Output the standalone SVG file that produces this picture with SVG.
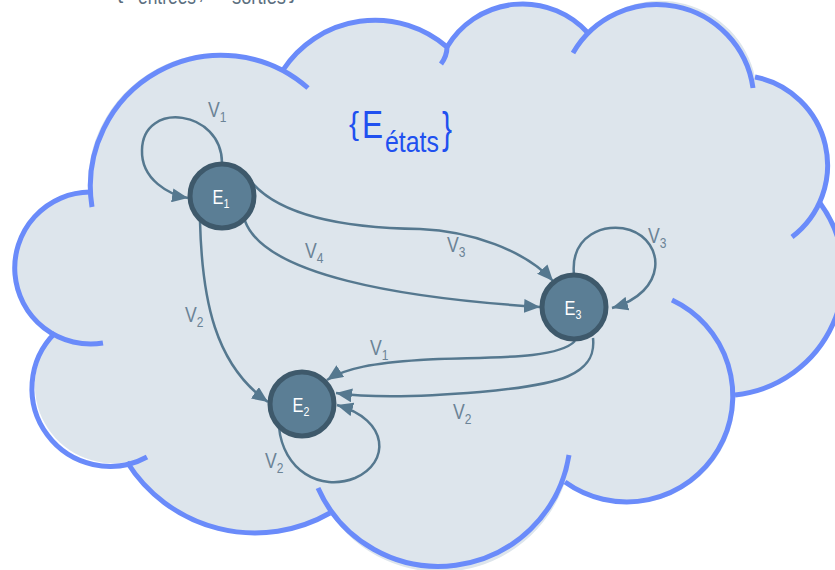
<svg xmlns="http://www.w3.org/2000/svg" width="835" height="570" viewBox="0 0 835 570">
  <defs>
    <style>
      .lobe { fill: none; stroke: #6a8bfa; stroke-width: 5; }
      .edge { fill: none; stroke: #55788f; stroke-width: 2.5; marker-end: url(#arr); }
      .node circle { fill: #5b7e95; stroke: #3e596b; stroke-width: 5; }
      .node text { fill: #ffffff; font-family: "Liberation Sans Narrow", "Liberation Sans", Arial, sans-serif; font-size: 20px; text-anchor: middle; }
      .lbl { fill: #6b8396; font-family: "Liberation Sans Narrow", "Liberation Sans", Arial, sans-serif; font-size: 22px; }
      .top { fill: #5c6f80; font-family: "Liberation Sans Narrow", "Liberation Sans", Arial, sans-serif; font-size: 22px; }
      .set { fill: #2050f0; font-family: "Liberation Sans Narrow", "Liberation Sans", Arial, sans-serif; }
    </style>
    <marker id="arr" markerUnits="userSpaceOnUse" markerWidth="16" markerHeight="14" refX="16" refY="7" orient="auto">
      <path d="M0,0 L16,7 L0,14 z" fill="#55788f"/>
    </marker>
  </defs>

  <g id="top-text">
    <text class="top" x="116" y="-2" font-size="30">{</text>
    <text class="top" x="138" y="4" textLength="58" lengthAdjust="spacingAndGlyphs">entrées</text>
    <text class="top" x="198" y="-1">,</text>
    <text class="top" x="232" y="4" textLength="54" lengthAdjust="spacingAndGlyphs">sorties</text>
    <text class="top" x="289" y="-2" font-size="30">}</text>
  </g>

  <g id="cloud">
    <path d="M 88,190 A 131 131 0 0 1 283,70 A 110 110 0 0 1 447,47 A 88 88 0 0 1 588,33 A 97 97 0 0 1 755,77 A 90 90 0 0 1 820,203 A 121 121 0 0 1 735,395 A 106 106 0 0 1 565,482 A 132 132 0 0 1 330,513 A 151 151 0 0 1 127,462 A 78 78 0 0 1 55,333 A 76 76 0 0 1 88,190 Z" fill="#dde5ec"/>
    <path class="lobe" d="M 92,207 A 131 131 0 0 1 308,88"/>
    <path class="lobe" d="M 283,70 A 110 110 0 0 1 447,47 Q 447,56 441,64"/>
    <path class="lobe" d="M 447,47 A 88 88 0 0 1 588,33"/>
    <path class="lobe" d="M 573,53 A 97 97 0 0 1 753,88"/>
    <path class="lobe" d="M 755,77 A 90 90 0 0 1 792,237"/>
    <path class="lobe" d="M 820,203 A 121 121 0 0 1 735,395"/>
    <path class="lobe" d="M 672,300 A 106 106 0 1 1 565,482"/>
    <path class="lobe" d="M 569,455 A 132 132 0 0 1 318,488"/>
    <path class="lobe" d="M 330,513 A 151 151 0 0 1 127,462"/>
    <path class="lobe" d="M 147,457 A 78 78 0 0 1 55,333"/>
    <path class="lobe" d="M 90,192 A 76 76 0 1 0 103,343"/>
  </g>

  <g id="set-label">
    <text class="set" x="349" y="134" font-size="32" textLength="10" lengthAdjust="spacingAndGlyphs">{</text>
    <text class="set" x="362" y="138" font-size="39" textLength="21" lengthAdjust="spacingAndGlyphs">E</text>
    <text class="set" x="385" y="152" font-size="29" textLength="54" lengthAdjust="spacingAndGlyphs">états</text>
    <text class="set" x="442" y="143" font-size="45" textLength="10" lengthAdjust="spacingAndGlyphs">}</text>
  </g>

  <g id="connectors">
    <path class="edge" d="M 222,163 C 222,110 143,100 142,150 C 141,180 170,195 188,198"/>
    <path class="edge" d="M 245,173 C 270,215 340,228 420,229 C 470,231 525,250 553,281"/>
    <path class="edge" d="M 245,221 C 265,275 400,298 540,307"/>
    <path class="edge" d="M 200,221 C 202,300 215,365 268,402"/>
    <path class="edge" d="M 575,341 C 555,362 470,356 420,360 C 375,363 345,368 327,380"/>
    <path class="edge" d="M 593,338 C 597,375 560,385 480,392 C 420,397 370,398 336,393"/>
    <path class="edge" d="M 574,275 C 570,235 605,222 630,230 C 665,242 668,292 612,308"/>
    <path class="edge" d="M 279,427 C 283,470 320,492 355,478 C 390,463 390,420 337,405"/>
  </g>

  <g id="labels">
    <text class="lbl" transform="translate(208,117) scale(0.8,1)">V<tspan dy="5" font-size="15">1</tspan></text>
    <text class="lbl" transform="translate(305,258) scale(0.8,1)">V<tspan dy="5" font-size="15">4</tspan></text>
    <text class="lbl" transform="translate(447,252) scale(0.8,1)">V<tspan dy="5" font-size="15">3</tspan></text>
    <text class="lbl" transform="translate(185,322) scale(0.8,1)">V<tspan dy="5" font-size="15">2</tspan></text>
    <text class="lbl" transform="translate(370,355) scale(0.8,1)">V<tspan dy="5" font-size="15">1</tspan></text>
    <text class="lbl" transform="translate(453,419) scale(0.8,1)">V<tspan dy="5" font-size="15">2</tspan></text>
    <text class="lbl" transform="translate(648,243) scale(0.8,1)">V<tspan dy="5" font-size="15">3</tspan></text>
    <text class="lbl" transform="translate(265,468) scale(0.8,1)">V<tspan dy="5" font-size="15">2</tspan></text>
  </g>

  <g id="E1" class="node">
    <circle cx="222" cy="196" r="32"/>
    <text transform="translate(221,204) scale(0.82,1)">E<tspan dy="4" font-size="13">1</tspan></text>
  </g>
  <g id="E2" class="node">
    <circle cx="302" cy="404" r="32"/>
    <text transform="translate(301,412) scale(0.82,1)">E<tspan dy="4" font-size="13">2</tspan></text>
  </g>
  <g id="E3" class="node">
    <circle cx="574" cy="307" r="32"/>
    <text transform="translate(573,315) scale(0.82,1)">E<tspan dy="4" font-size="13">3</tspan></text>
  </g>
</svg>
